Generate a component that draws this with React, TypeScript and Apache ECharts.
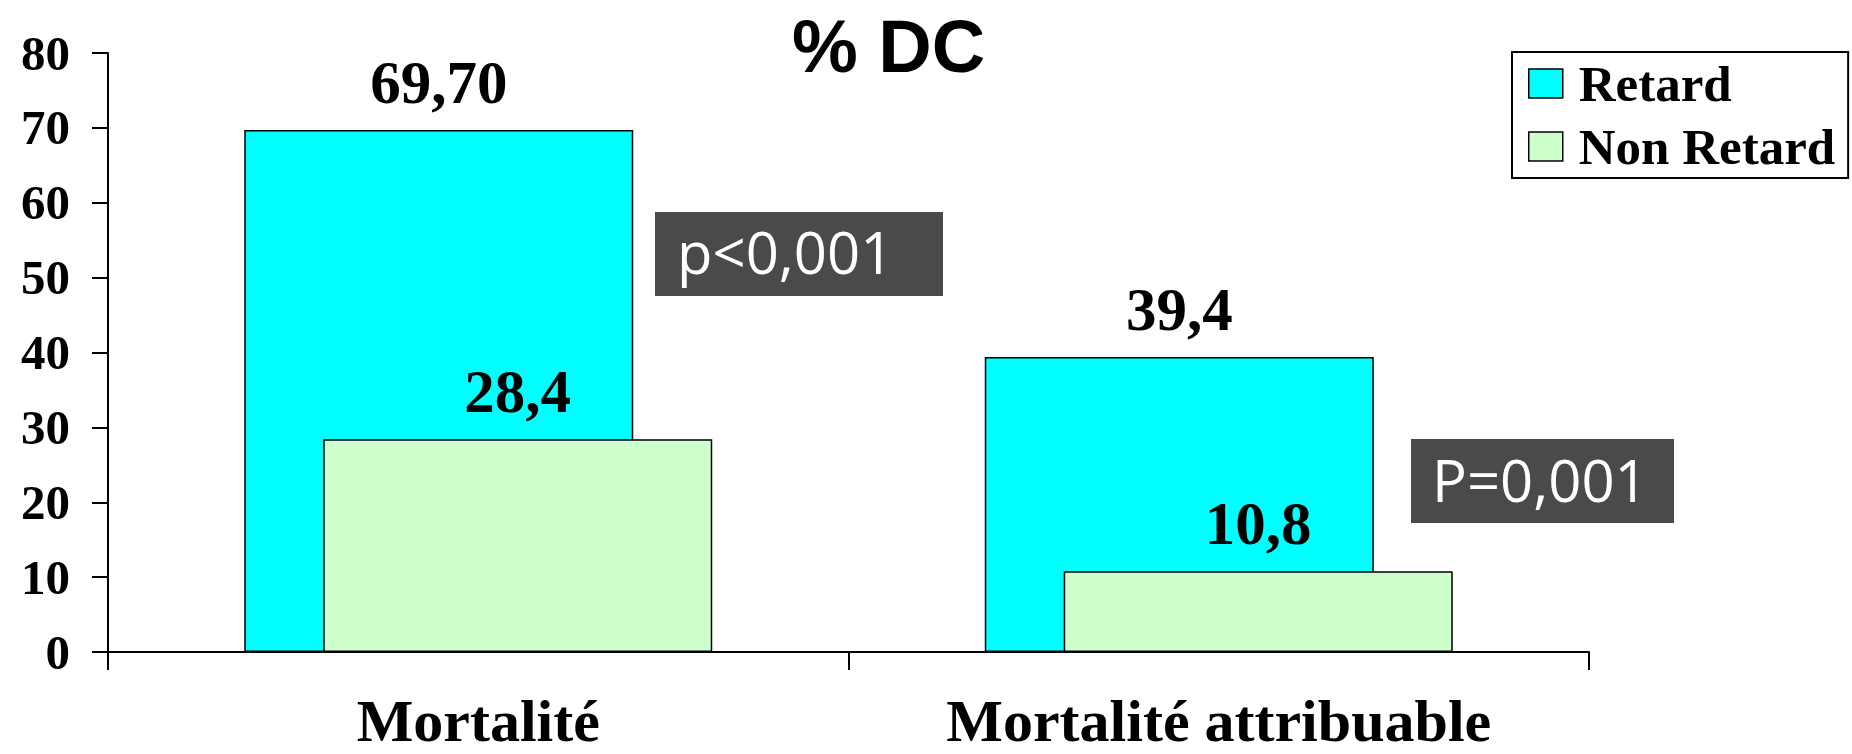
import React, { useEffect, useRef } from "react";
import * as echarts from "echarts";

const titleText = "% DC";
const categories = ["Mortalité", "Mortalité attribuable"];
const seriesNames = ["Retard", "Non Retard"];
const retard = [69.7, 39.4];
const nonRetard = [28.4, 10.8];
const retardLabels = ["69,70", "39,4"];
const nonRetardLabels = ["28,4", "10,8"];
const yMin = 0;
const yMax = 80;
const yInterval = 10;
const pTexts = ["p<0,001", "P=0,001"];

const SERIF = "'Liberation Serif', 'Times New Roman', serif";
const SANS = "'Liberation Sans', Arial, sans-serif";

export default function App() {
  const ref = useRef<HTMLDivElement>(null);

  useEffect(() => {
    document.body.style.margin = "0";
    if (!ref.current) return;
    const chart = echarts.init(ref.current, undefined, { renderer: "svg" });

    const labelStyle = {
      show: true,
      position: "top" as const,
      distance: 17,
      color: "#000",
      fontFamily: SERIF,
      fontWeight: "bold" as const,
      fontSize: 61,
    };

    const option: any = {
      animation: false,
      backgroundColor: "#fff",
      title: {
        text: titleText,
        left: 792,
        top: 9,
        padding: 0,
        textStyle: {
          fontFamily: SANS,
          fontWeight: "bold",
          fontSize: 74,
          color: "#000",
        },
      },
      legend: {
        orient: "vertical",
        left: 1512,
        top: 52,
        padding: [6, 13, 6, 16],
        itemGap: 12,
        itemWidth: 34,
        itemHeight: 29,
        icon: "rect",
        borderColor: "#000",
        borderWidth: 2,
        backgroundColor: "#fff",
        itemStyle: { borderColor: "#000", borderWidth: 1.5 },
        textStyle: {
          fontFamily: SERIF,
          fontWeight: "bold",
          fontSize: 51,
          color: "#000",
          padding: [0, 0, 0, 11],
        },
        data: seriesNames,
      },
      grid: {
        left: 108,
        right: 263,
        top: 53,
        bottom: 102,
        containLabel: false,
      },
      xAxis: {
        type: "category",
        data: categories,
        axisLine: { show: true, lineStyle: { color: "#000", width: 2 } },
        axisTick: { show: true, length: 18, lineStyle: { color: "#000", width: 2 } },
        axisLabel: {
          margin: 43,
          color: "#000",
          fontFamily: SERIF,
          fontWeight: "bold",
          fontSize: 60,
          lineHeight: 52,
        },
        splitLine: { show: false },
      },
      yAxis: {
        type: "value",
        min: yMin,
        max: yMax,
        interval: yInterval,
        axisLine: { show: true, lineStyle: { color: "#000", width: 2 } },
        axisTick: { show: true, length: 16, lineStyle: { color: "#000", width: 2 } },
        axisLabel: {
          margin: 38,
          color: "#000",
          fontFamily: SERIF,
          fontWeight: "bold",
          fontSize: 49,
        },
        splitLine: { show: false },
      },
      series: [
        {
          name: seriesNames[0],
          type: "bar",
          data: retard,
          barWidth: 389,
          barGap: "-79.7%",
          itemStyle: { color: "#00FFFF", borderColor: "#000", borderWidth: 1.5 },
          label: { ...labelStyle, formatter: (p: any) => retardLabels[p.dataIndex] },
          z: 2,
        },
        {
          name: seriesNames[1],
          type: "bar",
          data: nonRetard,
          barWidth: 389,
          barGap: "-79.7%",
          itemStyle: { color: "#CCFFCC", borderColor: "#000", borderWidth: 1.5 },
          label: { ...labelStyle, formatter: (p: any) => nonRetardLabels[p.dataIndex] },
          z: 3,
        },
      ],
      graphic: [
        {
          type: "group",
          left: 655,
          top: 212,
          z: 10,
          children: [
            { type: "rect", shape: { x: 0, y: 0, width: 288, height: 84 }, style: { fill: "#4a4a4a" } },
            {
              type: "text",
              x: 22,
              y: 39,
              style: {
                text: pTexts[0],
                fill: "#fff",
                font: "58px 'Open Sans', sans-serif",
                verticalAlign: "middle",
                align: "left",
              },
            },
          ],
        },
        {
          type: "group",
          left: 1411,
          top: 439,
          z: 10,
          children: [
            { type: "rect", shape: { x: 0, y: 0, width: 263, height: 84 }, style: { fill: "#4a4a4a" } },
            {
              type: "text",
              x: 21,
              y: 40,
              style: {
                text: pTexts[1],
                fill: "#fff",
                font: "58px 'Open Sans', sans-serif",
                verticalAlign: "middle",
                align: "left",
              },
            },
          ],
        },
      ],
    };

    chart.setOption(option);
    return () => chart.dispose();
  }, []);

  return <div ref={ref} style={{ width: 1852, height: 754 }} />;
}
